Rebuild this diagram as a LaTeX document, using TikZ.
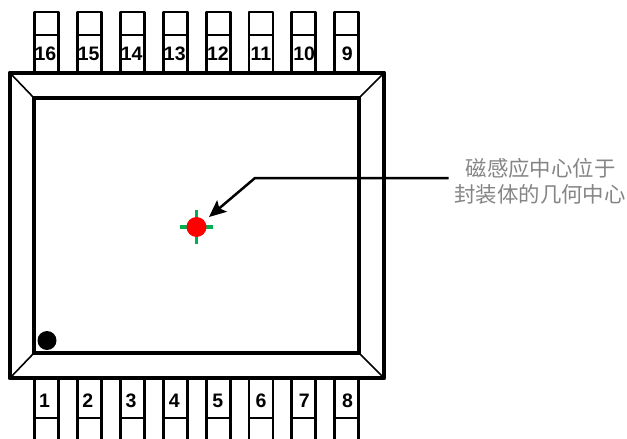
\documentclass[tikz,border=0pt]{standalone}
\usepackage{fontspec}
\setmainfont{Liberation Sans}
\newfontfamily\cjkfont{Noto Sans CJK SC}
\usetikzlibrary{arrows.meta}
\tikzset{
  pinline/.style={draw=black,line width=2.9pt,line join=round},
  pinnum/.style={font=\fontsize{19.5}{20}\selectfont\bfseries,inner sep=0pt,text=black},
  bodyline/.style={draw=black,line width=4.9pt,line join=round},
  innerline/.style={draw=black,line width=3.3pt,line join=miter},
  cornerline/.style={draw=black,line width=1.6pt},
  tick/.style={draw=tickgreen,line width=3.4pt},
  leader/.style={draw=black,line width=2.5pt,line join=miter},
  note/.style={font=\cjkfont\fontsize{21.4}{26}\selectfont,text=notegrey,inner sep=0pt,align=center}
}
\definecolor{tickgreen}{HTML}{00B050}
\definecolor{notegrey}{HTML}{858585}
\begin{document}
\begin{tikzpicture}[x=1pt,y=-1pt]
\useasboundingbox (0,0) rectangle (627,439);
% top pins
\foreach \n/\i in {16/0,15/1,14/2,13/3,12/4,11/5,10/6,9/7}{
  \pgfmathsetmacro{\xl}{34.5+42.9*\i}
  \pgfmathsetmacro{\xt}{45.5+43.1*\i}
  \draw[pinline] (\xl,72) -- (\xl,12) -- (\xl+24,12) -- (\xl+24,72);
  \draw[pinline] (\xl,35) -- (\xl+24,35);
  \node[pinnum] (top\n) at (\xt,53.5) {\n};
}
% bottom pins
\foreach \n/\i in {1/0,2/1,3/2,4/3,5/4,6/5,7/6,8/7}{
  \pgfmathsetmacro{\xl}{34.5+42.9*\i}
  \pgfmathsetmacro{\xt}{44.5+43.3*\i}
  \draw[pinline] (\xl,378) -- (\xl,441);
  \draw[pinline] (\xl+24,378) -- (\xl+24,441);
  \draw[pinline] (\xl,418) -- (\xl+24,418);
  \node[pinnum] (bot\n) at (\xt,400.5) {\n};
}
% body
\draw[cornerline] (10,73) -- (34,98);
\draw[cornerline] (384,73) -- (359,98);
\draw[cornerline] (10,378) -- (34,353);
\draw[cornerline] (384,378) -- (359,353);
\draw[innerline,fill=white] (34,98) rectangle (359,353);
\draw[bodyline] (10,73) rectangle (384,378);
% pin 1 mark
\node[circle,fill=black,minimum size=19pt,inner sep=0pt] (dot) at (47,340.5) {};
% centre mark
\coordinate (c) at (196.5,227);
\draw[tick] (180,227) -- (213,227);
\draw[tick] (196.5,210) -- (196.5,244);
\node[circle,fill=red,minimum size=20pt,inner sep=0pt] (centre) at (c) {};
% note
\node[note] (note1) at (540.5,168) {磁感应中心位于};
\node[note] (note2) at (540,194) {封装体的几何中心};
\coordinate (leadstart) at (448.5,178);
\coordinate (bend) at (255,178);
\coordinate (tip) at (209,217);
\draw[leader,-{Stealth[length=17pt,width=15pt,inset=3.5pt]}] (leadstart) -- (bend) -- (tip);
\end{tikzpicture}
\end{document}
